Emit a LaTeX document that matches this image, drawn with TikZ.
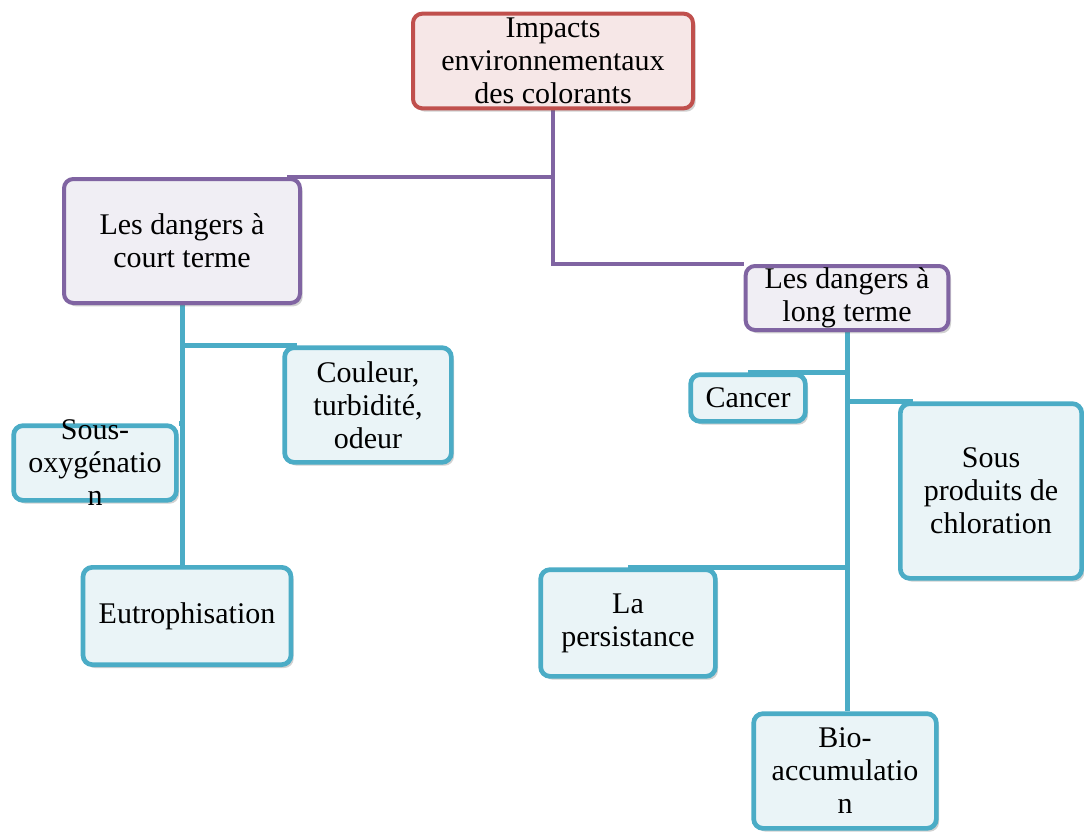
\documentclass[tikz,border=0pt]{standalone}
\usepackage{fontspec}
\setmainfont{Liberation Serif}
\usetikzlibrary{shadows, calc, backgrounds}

\definecolor{redline}{HTML}{C0504D}
\definecolor{redfill}{HTML}{F6E7E7}
\definecolor{purpleline}{HTML}{8064A2}
\definecolor{purplefill}{HTML}{F0EEF4}
\definecolor{blueline}{HTML}{4BACC6}
\definecolor{bluefill}{HTML}{EAF4F7}

\begin{document}
\begin{tikzpicture}[x=0.75pt, y=-0.75pt,
    box/.style={rectangle, rounded corners=7pt, line width=3pt, align=center, inner sep=0pt,
        font=\fontsize{22.5}{24.75}\selectfont,
        drop shadow={shadow xshift=2pt, shadow yshift=-2.5pt, opacity=0.3, fill=black!60}},
    topbox/.style={box, draw=redline, fill=redfill},
    mainbox/.style={box, draw=purpleline, fill=purplefill},
    leafbox/.style={box, draw=blueline, fill=bluefill, line width=3.5pt},
    mainlink/.style={draw=purpleline, line width=3pt},
    leaflink/.style={draw=blueline, line width=3.75pt}
]
    \useasboundingbox (0,0) rectangle (1084,831);

    % root
    \node[topbox, minimum width=210pt, minimum height=71pt] (top) at (553,61)
        {Impacts\\environnementaux\\des colorants};

    % two kinds of danger
    \node[mainbox, minimum width=177pt, minimum height=93pt] (court) at (182,241)
        {Les dangers à\\court terme};
    \node[mainbox, minimum width=152pt, minimum height=48pt] (long) at (847,298)
        {Les dangers à\\long terme};

    % short term
    \node[leafbox, minimum width=125pt, minimum height=86pt] (couleur) at (368,405)
        {Couleur,\\turbidité,\\odeur};
    \node[leafbox, minimum width=122pt, minimum height=56pt] (oxy) at (95,463) {};
    \node[font=\fontsize{22.5}{24.75}\selectfont, align=center, inner sep=0pt] (oxytext) at (oxy)
        {Sous-\\oxygénatio\\n};
    \node[leafbox, minimum width=156pt, minimum height=73pt] (eutro) at (187,616)
        {Eutrophisation};

    % long term
    \node[leafbox, minimum width=86pt, minimum height=35pt] (cancer) at (748,398)
        {Cancer};
    \node[leafbox, minimum width=136pt, minimum height=131pt] (sp) at (991,491)
        {Sous\\produits de\\chloration};
    \node[leafbox, minimum width=131pt, minimum height=80pt] (pers) at (628,623)
        {La\\persistance};
    \node[leafbox, minimum width=137pt, minimum height=86pt] (bio) at (845,771)
        {Bio-\\accumulatio\\n};

    \begin{scope}[on background layer]
        \draw[mainlink] (top.south) |- ($(court.north east)+(-15,0)$);
        \draw[mainlink] (top.south) |- (long.north west);

        \draw[leaflink] (court.south) -- (court.south |- eutro.north);
        \draw[leaflink] (court.south |- couleur.north) -- ($(couleur.north west)+(15,0)$);
        \draw[leaflink] (court.south |- oxy.north east) -- (oxy.north east);

        \draw[leaflink] (long.south) -- (long.south |- bio.north);
        \draw[leaflink] (long.south |- cancer.north) -- (cancer.north);
        \draw[leaflink] (long.south |- sp.north west) -- ($(sp.north west)+(15,0)$);
        \draw[leaflink] (long.south |- pers.north) -- (pers.north);
    \end{scope}
\end{tikzpicture}
\end{document}
